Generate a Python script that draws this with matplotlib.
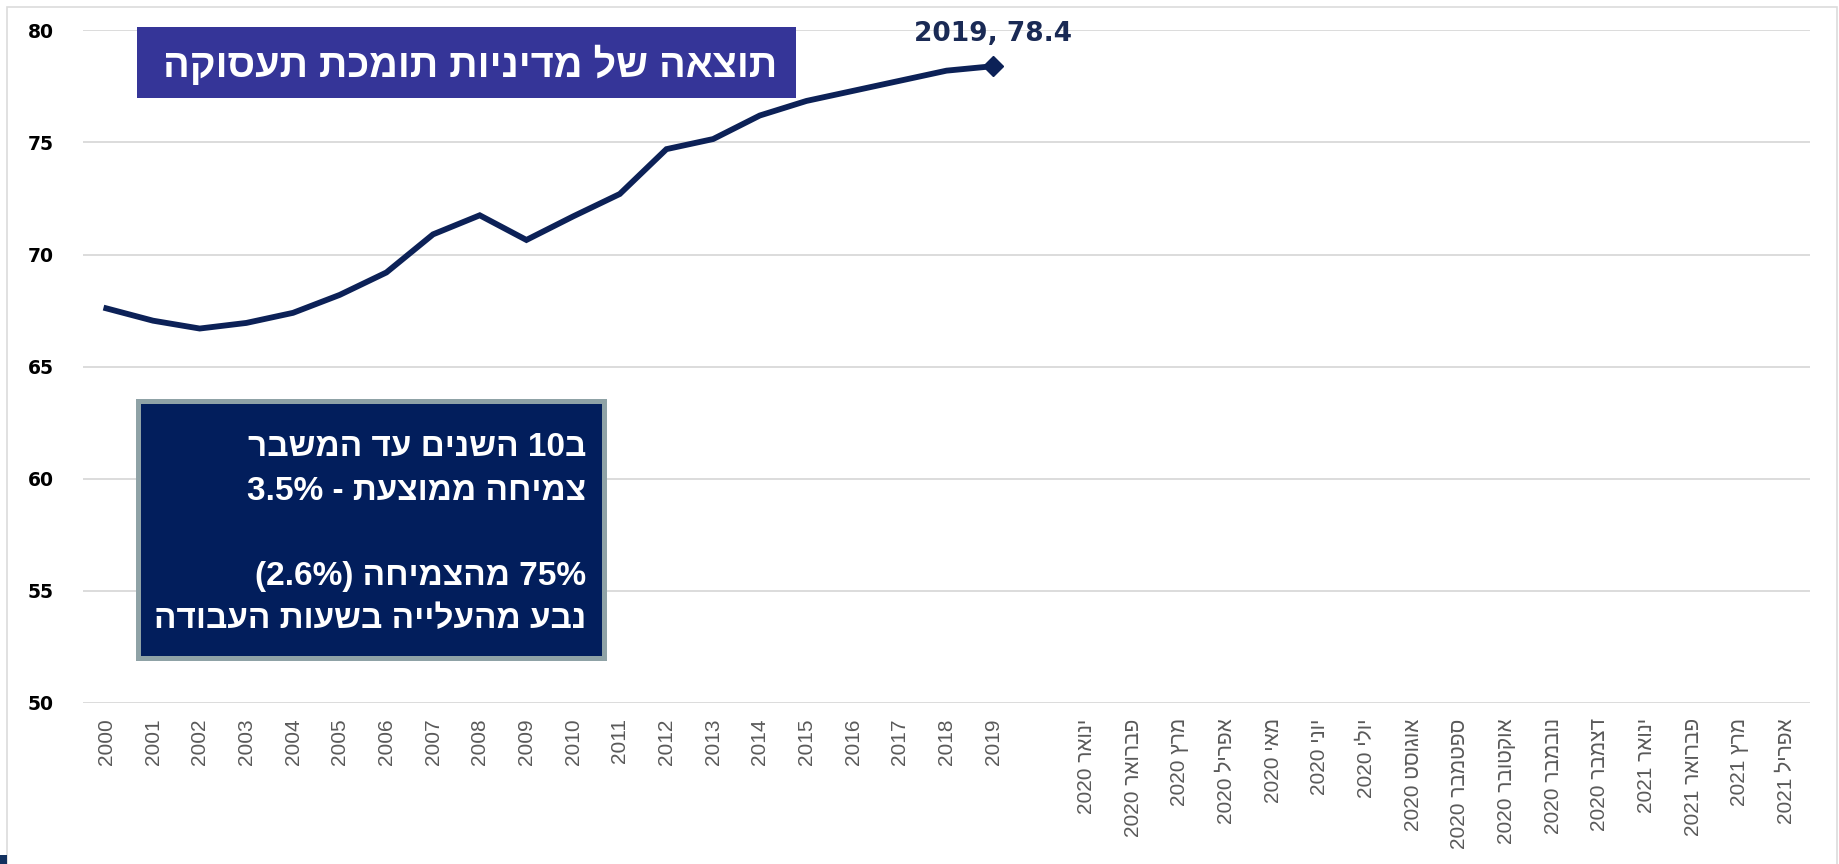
import re
import matplotlib.pyplot as plt
from matplotlib.patches import Rectangle

years = [str(y) for y in range(2000, 2020)]
months = ["ינואר 2020", "פברואר 2020", "מרץ 2020", "אפריל 2020", "מאי 2020",
          "יוני 2020", "יולי 2020", "אוגוסט 2020", "ספטמבר 2020", "אוקטובר 2020",
          "נובמבר 2020", "דצמבר 2020", "ינואר 2021", "פברואר 2021", "מרץ 2021",
          "אפריל 2021"]
values = [67.6, 67.05, 66.7, 66.95, 67.4, 68.2, 69.2, 70.9, 71.75, 70.65,
          71.7, 72.7, 74.7, 75.15, 76.2, 76.85, 77.3, 77.75, 78.2, 78.4]
title = "תוצאה של מדיניות תומכת תעסוקה"
box_lines = ["ב10 השנים עד המשבר", "צמיחה ממוצעת - 3.5%", "",
             "75% מהצמיחה (2.6%)", "נבע מהעלייה בשעות העבודה"]

HEB = re.compile(r'([\u0590-\u05FF]+)')


def heb(s):
    # matplotlib has no bidi: put RTL text in visual (left to right) order
    out = []
    for word in s.split(' ')[::-1]:
        runs = [r for r in HEB.split(word) if r]
        runs = [r[::-1] if HEB.fullmatch(r) else r for r in runs[::-1]]
        out.append(''.join(runs))
    return ' '.join(out)


categories = years + [''] + [heb(m) for m in months]

W, H = 1839, 864
fig = plt.figure(figsize=(W / 100, H / 100), dpi=100)
ax = fig.add_axes([83 / W, 1 - 703 / H, (1810 - 83) / W, (703 - 30.3) / H])

navy = '#0c2157'
ax.plot(range(len(values)), values, color=navy, lw=4.2, solid_joinstyle='miter')
ax.plot(len(values) - 1, values[-1], marker='D', ms=10, color=navy)
ax.annotate(f'{years[-1]}, {values[-1]}', (len(values) - 1, values[-1]),
            xytext=(0, 23), textcoords='offset points', ha='center', va='center',
            fontsize=19, fontweight='bold', color='#1a2a55', family='DejaVu Sans')

ax.set_xlim(-0.5, len(categories) - 0.5)
ax.set_ylim(50, 80)
ax.set_yticks(range(50, 81, 5))
ax.set_xticks(range(len(categories)))
ax.set_xticklabels(categories, rotation=90, fontsize=15, color='#595959',
                   family=['Liberation Sans', 'DejaVu Sans'])
for lab in ax.get_yticklabels():
    lab.set_fontweight('bold')
    lab.set_fontsize(13.5)
    lab.set_family('DejaVu Sans')
ax.tick_params(axis='both', length=0)
ax.tick_params(axis='y', pad=21)
ax.tick_params(axis='x', pad=11)
ax.grid(axis='y', color='#d9d9d9', lw=1.3)
ax.set_axisbelow(True)
for sp in ax.spines.values():
    sp.set_visible(False)

# outer frame and corner mark
fig.add_artist(Rectangle((7 / W, -0.05), (1837 - 7) / W, 1.05 - 7 / H,
                         transform=fig.transFigure, fill=False,
                         edgecolor='#dcdcdc', lw=1.2))
fig.add_artist(Rectangle((0, 0), 7 / W, 9 / H, transform=fig.transFigure,
                         color='#12315f', lw=0))

# title box
fig.add_artist(Rectangle((136.5 / W, 1 - 98.3 / H), 659 / W, 71.6 / H,
                         transform=fig.transFigure, color='#353598', lw=0))
fig.text(470 / W, 1 - 77 / H, heb(title), ha='center', va='baseline',
         fontsize=28.5, fontweight='bold', color='white', family='Liberation Sans')

# note box
fig.add_artist(Rectangle((137.5 / W, 1 - 657.5 / H), 467 / W, 257 / H,
                         transform=fig.transFigure, facecolor='#021e5c',
                         edgecolor='#8fa2a6', lw=3.6))
baselines = [456, 500, 0, 585, 628]
for line, yb in zip(box_lines, baselines):
    if line:
        fig.text(586 / W, 1 - yb / H, heb(line), ha='right', va='baseline',
                 fontsize=24, fontweight='bold', color='white',
                 family='Liberation Sans')

plt.savefig('out.png', dpi=100)
